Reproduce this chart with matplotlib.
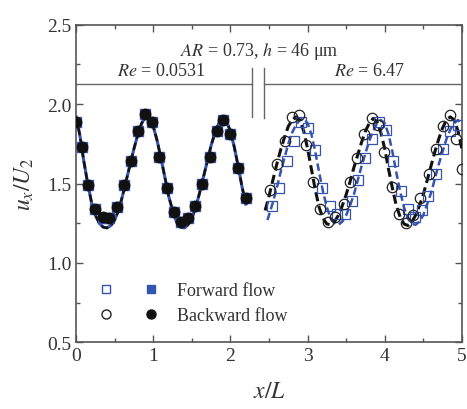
import matplotlib
matplotlib.use('Agg')
import matplotlib.pyplot as plt
from matplotlib.lines import Line2D
from matplotlib.legend_handler import HandlerTuple

plt.rcParams['font.family'] = ['Liberation Serif', 'DejaVu Serif']
plt.rcParams['mathtext.fontset'] = 'stix'

# Re = 0.0531 (left part), forward and backward points sit on top of each other
xl_pts = [0.00, 0.07, 0.15, 0.25, 0.35, 0.43, 0.53, 0.62, 0.71, 0.80, 0.89, 0.99,
          1.08, 1.18, 1.27, 1.36, 1.45, 1.54, 1.63, 1.73, 1.82, 1.91, 2.00, 2.10, 2.20]
yl_fwd = [1.89, 1.73, 1.49, 1.34, 1.28, 1.28, 1.35, 1.49, 1.64, 1.83, 1.94, 1.89,
          1.67, 1.47, 1.32, 1.26, 1.28, 1.36, 1.50, 1.67, 1.83, 1.90, 1.81, 1.60, 1.41]
yl_bwd = [1.89, 1.73, 1.49, 1.34, 1.29, 1.28, 1.35, 1.49, 1.64, 1.83, 1.94, 1.89,
          1.67, 1.47, 1.32, 1.26, 1.28, 1.36, 1.50, 1.67, 1.83, 1.90, 1.81, 1.60, 1.41]

xl_fit = [0.00, 0.05, 0.10, 0.15, 0.20, 0.25, 0.30, 0.35, 0.40, 0.45, 0.50, 0.55,
          0.60, 0.65, 0.70, 0.75, 0.80, 0.85, 0.90, 0.95, 1.00, 1.05, 1.10, 1.15,
          1.20, 1.25, 1.30, 1.35, 1.40, 1.45, 1.50, 1.55, 1.60, 1.65, 1.70, 1.75,
          1.80, 1.85, 1.90, 1.95, 2.00, 2.05, 2.10, 2.15, 2.20]
yl_fit = [1.92, 1.80, 1.64, 1.50, 1.38, 1.30, 1.25, 1.225, 1.22, 1.235, 1.27, 1.33,
          1.42, 1.52, 1.62, 1.72, 1.81, 1.88, 1.92, 1.91, 1.86, 1.77, 1.66, 1.54,
          1.42, 1.33, 1.26, 1.225, 1.22, 1.24, 1.28, 1.35, 1.44, 1.54, 1.64, 1.74,
          1.82, 1.88, 1.91, 1.89, 1.83, 1.73, 1.61, 1.48, 1.37]

# Re = 6.47 (right part)
xr_bwd = [2.51, 2.60, 2.71, 2.80, 2.89, 2.98, 3.07, 3.16, 3.26, 3.35, 3.47, 3.55,
          3.64, 3.73, 3.83, 3.91, 3.99, 4.09, 4.19, 4.28, 4.37, 4.46, 4.57, 4.66,
          4.75, 4.84, 4.93, 5.00]
yr_bwd = [1.46, 1.62, 1.77, 1.92, 1.93, 1.74, 1.51, 1.34, 1.26, 1.29, 1.37, 1.51,
          1.66, 1.81, 1.91, 1.87, 1.70, 1.48, 1.31, 1.25, 1.30, 1.41, 1.56, 1.72,
          1.86, 1.93, 1.78, 1.59]
xr_fwd = [2.54, 2.63, 2.73, 2.82, 2.91, 3.01, 3.10, 3.19, 3.29, 3.38, 3.48, 3.57,
          3.65, 3.74, 3.83, 3.92, 4.02, 4.11, 4.21, 4.30, 4.39, 4.48, 4.56, 4.67,
          4.76, 4.85, 4.95]
yr_fwd = [1.36, 1.47, 1.64, 1.77, 1.89, 1.85, 1.71, 1.47, 1.36, 1.31, 1.31, 1.39,
          1.52, 1.66, 1.78, 1.89, 1.84, 1.64, 1.45, 1.34, 1.29, 1.33, 1.42, 1.56,
          1.72, 1.83, 1.87]

xr_fit_bwd = [2.45, 2.50, 2.55, 2.60, 2.65, 2.70, 2.75, 2.80, 2.85, 2.90, 2.95, 3.00,
              3.05, 3.10, 3.15, 3.20, 3.25, 3.30, 3.35, 3.40, 3.45, 3.50, 3.55, 3.60,
              3.65, 3.70, 3.75, 3.80, 3.85, 3.90, 3.95, 4.00, 4.05, 4.10, 4.15, 4.20,
              4.25, 4.30, 4.35, 4.40, 4.45, 4.50, 4.55, 4.60, 4.65, 4.70, 4.75, 4.80,
              4.85, 4.90, 4.95, 5.00]
yr_fit_bwd = [1.33, 1.42, 1.52, 1.62, 1.71, 1.79, 1.86, 1.90, 1.92, 1.90, 1.83, 1.72,
              1.59, 1.46, 1.35, 1.28, 1.245, 1.24, 1.26, 1.30, 1.36, 1.43, 1.51, 1.60,
              1.68, 1.76, 1.83, 1.88, 1.91, 1.89, 1.82, 1.72, 1.59, 1.47, 1.36, 1.29,
              1.245, 1.235, 1.255, 1.30, 1.36, 1.43, 1.52, 1.61, 1.70, 1.78, 1.85, 1.90,
              1.92, 1.90, 1.83, 1.72]
xr_fit_fwd = [2.48, 2.50, 2.55, 2.60, 2.65, 2.70, 2.75, 2.80, 2.85, 2.90, 2.95, 3.00,
              3.05, 3.10, 3.15, 3.20, 3.25, 3.30, 3.35, 3.40, 3.45, 3.50, 3.55, 3.60,
              3.65, 3.70, 3.75, 3.80, 3.85, 3.90, 3.95, 4.00, 4.05, 4.10, 4.15, 4.20,
              4.25, 4.30, 4.35, 4.40, 4.45, 4.50, 4.55, 4.60, 4.65, 4.70, 4.75, 4.80,
              4.85, 4.90, 4.95, 5.00]
yr_fit_fwd = [1.27, 1.30, 1.38, 1.47, 1.57, 1.66, 1.75, 1.82, 1.87, 1.90, 1.91, 1.88,
              1.81, 1.70, 1.57, 1.45, 1.35, 1.28, 1.25, 1.24, 1.26, 1.30, 1.36, 1.43,
              1.52, 1.61, 1.69, 1.77, 1.83, 1.88, 1.90, 1.88, 1.81, 1.70, 1.57, 1.45,
              1.35, 1.28, 1.245, 1.24, 1.26, 1.30, 1.37, 1.44, 1.53, 1.62, 1.70, 1.78,
              1.84, 1.88, 1.90, 1.87]

blue = '#3553b0'
axc = '#555555'

fig = plt.figure(figsize=(4.67, 4.10), dpi=100)
ax = fig.add_axes([0.163, 0.163, 0.826, 0.774])

# left part
ax.plot(xl_fit, yl_fit, '-', color=blue, lw=2.2, zorder=2)
ax.plot(xl_fit, yl_fit, '--', color='#111111', lw=1.8, dashes=(3, 1.5), zorder=3)
ax.plot(xl_pts, yl_fwd, 's', color=blue, ms=6.5, zorder=4)
ax.plot(xl_pts, yl_bwd, 'o', color='#111111', ms=7.5, zorder=5)

# right part
ax.plot(xr_fit_fwd, yr_fit_fwd, '--', color=blue, lw=1.8, dashes=(3, 1.5), zorder=3)
ax.plot(xr_fit_bwd, yr_fit_bwd, '--', color='#111111', lw=2.2, dashes=(3, 1.5), zorder=3)
ax.plot(xr_fwd, yr_fwd, 's', mfc='none', mec=blue, mew=0.9, ms=6.5, zorder=4)
ax.plot(xr_bwd, yr_bwd, 'o', mfc='none', mec='#222222', mew=0.9, ms=7.5, zorder=4)

# separator lines
ax.plot([0, 2.28], [2.13, 2.13], color='#666666', lw=1.0)
ax.plot([2.43, 5], [2.13, 2.13], color='#666666', lw=1.0)
ax.plot([2.28, 2.28], [1.92, 2.23], color='#666666', lw=1.0)
ax.plot([2.43, 2.43], [1.91, 2.23], color='#666666', lw=1.0)

ax.text(2.37, 2.34, r'$AR$ = 0.73, $h$ = 46 μm', ha='center', va='center',
        fontsize=13, color='#333333')
ax.text(1.10, 2.21, r'$Re$ = 0.0531', ha='center', va='center', fontsize=13, color='#333333')
ax.text(3.80, 2.21, r'$Re$ = 6.47', ha='center', va='center', fontsize=13, color='#333333')

# legend
h1 = (Line2D([], [], ls='none', marker='s', mfc='none', mec=blue, ms=5.5),
      Line2D([], [], ls='none', marker='s', color=blue, ms=5.5))
h2 = (Line2D([], [], ls='none', marker='o', mfc='none', mec='#222222', ms=6.5),
      Line2D([], [], ls='none', marker='o', color='#111111', ms=6.5))
leg = ax.legend([h1, h2], ['Forward flow', 'Backward flow'],
                handler_map={tuple: HandlerTuple(ndivide=None, pad=1.4)},
                loc='lower left', bbox_to_anchor=(0.01, 0.005), frameon=False,
                handlelength=3.6, handletextpad=0.9, labelspacing=0.45, fontsize=13)
for t in leg.get_texts():
    t.set_color('#333333')

ax.set_xlim(0, 5)
ax.set_ylim(0.5, 2.5)
ax.set_xticks([0, 1, 2, 3, 4, 5])
ax.set_xticks([0.5, 1.5, 2.5, 3.5, 4.5], minor=True)
ax.set_yticks([0.5, 1.0, 1.5, 2.0, 2.5])
ax.set_yticks([0.75, 1.25, 1.75, 2.25], minor=True)
ax.set_yticklabels(['0.5', '1.0', '1.5', '2.0', '2.5'])
ax.tick_params(which='both', direction='in', top=True, right=True, color=axc,
               labelsize=14, labelcolor='#333333')
ax.tick_params(which='major', length=5, width=1)
ax.tick_params(which='minor', length=3, width=1)
for s in ax.spines.values():
    s.set_color(axc)
    s.set_linewidth(1.2)

ax.set_xlabel(r'$x/L$', fontsize=17, color='#333333', labelpad=12)
ax.set_ylabel(r'$u_x/U_2$', fontsize=17, color='#333333', labelpad=8)

fig.savefig('out.png', dpi=100)
